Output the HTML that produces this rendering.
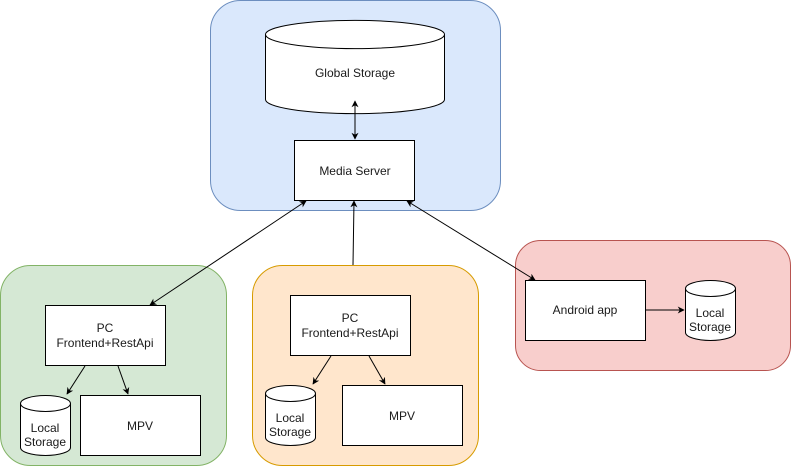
<!DOCTYPE html>
<html><head><meta charset="utf-8"><style>
html,body{margin:0;padding:0;background:#fff;}
svg{display:block;}
text{font-family:"Liberation Sans",Arial,sans-serif;font-size:12px;fill:#1a1a1a;text-anchor:middle;}
</style></head><body>
<svg width="791" height="466" viewBox="0 0 791 466" xmlns="http://www.w3.org/2000/svg">
<defs>
<marker id="a" viewBox="0 0 10 10" refX="9" refY="5" markerWidth="7" markerHeight="7" orient="auto-start-reverse" markerUnits="userSpaceOnUse"><path d="M0,0 L10,5 L0,10 L3,5 z" fill="#000"/></marker>
</defs>
<rect x="210.5" y="0.5" width="290" height="210" rx="30" fill="#dae8fc" stroke="#6c8ebf"/>
<rect x="0.5" y="265.5" width="226" height="200" rx="30" fill="#d5e8d4" stroke="#82b366"/>
<rect x="252.5" y="265.5" width="226" height="200" rx="30" fill="#ffe6cc" stroke="#d79b00"/>
<rect x="515.5" y="240.5" width="275" height="130" rx="25" fill="#f8cecc" stroke="#b85450"/>

<!-- global storage -->
<path d="M265.5,34.5 A89,14 0 0 1 444.5,34.5 L444.5,99.5 A89,14 0 0 1 265.5,99.5 Z" fill="#fff" stroke="#000"/>
<path d="M265.5,34.5 A89,14 0 0 0 444.5,34.5" fill="none" stroke="#000"/>
<text x="355" y="77">Global Storage</text>

<rect x="294.5" y="140.5" width="120" height="60" fill="#fff" stroke="#000"/>
<text x="355" y="175">Media Server</text>

<!-- green -->
<rect x="45.5" y="305.5" width="120" height="60" fill="#fff" stroke="#000"/>
<text x="105" y="332">PC</text><text x="105" y="347">Frontend+RestApi</text>
<path d="M20.5,403.5 A25,8 0 0 1 70.5,403.5 L70.5,447.5 A25,8 0 0 1 20.5,447.5 Z" fill="#fff" stroke="#000"/>
<path d="M20.5,403.5 A25,8 0 0 0 70.5,403.5" fill="none" stroke="#000"/>
<text x="45" y="432">Local</text><text x="45" y="446">Storage</text>
<rect x="80.5" y="395.5" width="120" height="60" fill="#fff" stroke="#000"/>
<text x="140" y="430">MPV</text>

<!-- orange -->
<rect x="290.5" y="295.5" width="120" height="60" fill="#fff" stroke="#000"/>
<text x="350" y="322">PC</text><text x="350" y="337">Frontend+RestApi</text>
<path d="M265.5,393.5 A25,8 0 0 1 315.5,393.5 L315.5,437.5 A25,8 0 0 1 265.5,437.5 Z" fill="#fff" stroke="#000"/>
<path d="M265.5,393.5 A25,8 0 0 0 315.5,393.5" fill="none" stroke="#000"/>
<text x="290" y="422">Local</text><text x="290" y="436">Storage</text>
<rect x="342.5" y="385.5" width="120" height="60" fill="#fff" stroke="#000"/>
<text x="402" y="420">MPV</text>

<!-- red -->
<rect x="525.5" y="280.5" width="120" height="60" fill="#fff" stroke="#000"/>
<text x="585" y="314">Android app</text>
<path d="M685.5,288.5 A25,8 0 0 1 735.5,288.5 L735.5,332.5 A25,8 0 0 1 685.5,332.5 Z" fill="#fff" stroke="#000"/>
<path d="M685.5,288.5 A25,8 0 0 0 735.5,288.5" fill="none" stroke="#000"/>
<text x="710" y="317">Local</text><text x="710" y="331">Storage</text>

<!-- connectors -->
<g stroke="#000" stroke-width="1" fill="none">
<line x1="355" y1="101" x2="355" y2="139" marker-start="url(#a)" marker-end="url(#a)"/>
<line x1="150" y1="305" x2="306" y2="201" marker-start="url(#a)" marker-end="url(#a)"/>
<line x1="353" y1="265" x2="354" y2="201" marker-end="url(#a)"/>
<line x1="535" y1="280" x2="407" y2="201" marker-start="url(#a)" marker-end="url(#a)"/>
<line x1="85" y1="366" x2="67" y2="394" marker-end="url(#a)"/>
<line x1="118" y1="366" x2="128" y2="394" marker-end="url(#a)"/>
<line x1="331" y1="356" x2="313" y2="384" marker-end="url(#a)"/>
<line x1="369" y1="356" x2="385" y2="384" marker-end="url(#a)"/>
<line x1="646" y1="310" x2="684" y2="310" marker-end="url(#a)"/>
</g>
</svg>
</body></html>
